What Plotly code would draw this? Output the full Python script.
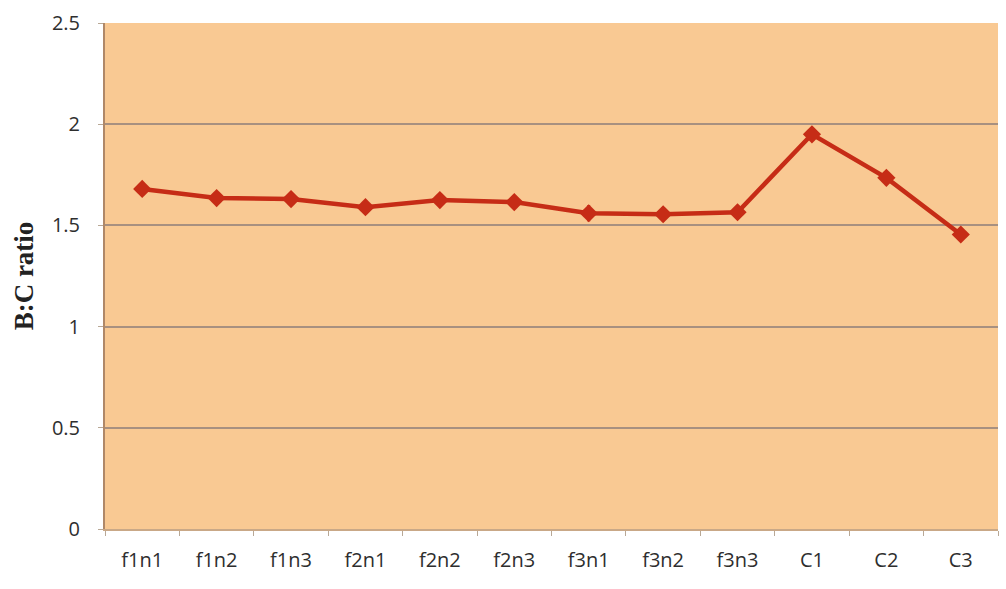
import plotly.graph_objects as go

# B:C ratio per treatment
categories = ["f1n1", "f1n2", "f1n3", "f2n1", "f2n2", "f2n3",
              "f3n1", "f3n2", "f3n3", "C1", "C2", "C3"]
bc_ratio = [1.68, 1.635, 1.63, 1.59, 1.625, 1.615,
            1.56, 1.555, 1.565, 1.95, 1.735, 1.455]
bc_error = [0, 0, 0, 0, 0, 0, 0.04, 0.035, 0.035, 0, 0, 0]
y_ticks = [0, 0.5, 1, 1.5, 2, 2.5]
y_tick_text = ["0", "0.5", "1", "1.5", "2", "2.5"]

line_color = "#C62C16"
label_color = "#2e2e2e"

fig = go.Figure()
fig.add_trace(go.Scatter(
    x=categories, y=bc_ratio,
    mode="lines+markers",
    line=dict(color=line_color, width=4.5),
    marker=dict(symbol="diamond", size=14, color=line_color),
    error_y=dict(type="data", array=bc_error, color=line_color,
                 thickness=3, width=0),
    showlegend=False,
))

fig.update_layout(
    width=1006, height=589,
    margin=dict(l=105, r=8, t=23, b=60),
    paper_bgcolor="white",
    plot_bgcolor="#F9C993",
    font=dict(family="Open Sans, Lato, sans-serif", size=20, color=label_color),
)
fig.update_xaxes(
    type="category", range=[-0.5, 11.5],
    tickson="boundaries", ticks="outside", ticklen=5, tickcolor="#B8A896",
    ticklabelstandoff=12,
    showgrid=False, showline=True, linecolor="#C9A887", linewidth=2,
    tickfont=dict(size=20, color=label_color),
)
fig.update_yaxes(
    range=[0, 2.5], tickvals=y_ticks, ticktext=y_tick_text,
    ticks="outside", ticklen=5, tickcolor="#B8A896",
    ticklabelstandoff=14,
    showgrid=True, gridcolor="#A89080", gridwidth=2,
    showline=True, linecolor="#B08868", linewidth=2,
    zeroline=False,
    tickfont=dict(size=20, color=label_color),
    title=dict(text="<b>B:C ratio</b>",
               font=dict(family="Liberation Serif, Times New Roman, serif",
                         size=27, color="#222222"),
               standoff=10),
)

fig.write_html("out.html")
